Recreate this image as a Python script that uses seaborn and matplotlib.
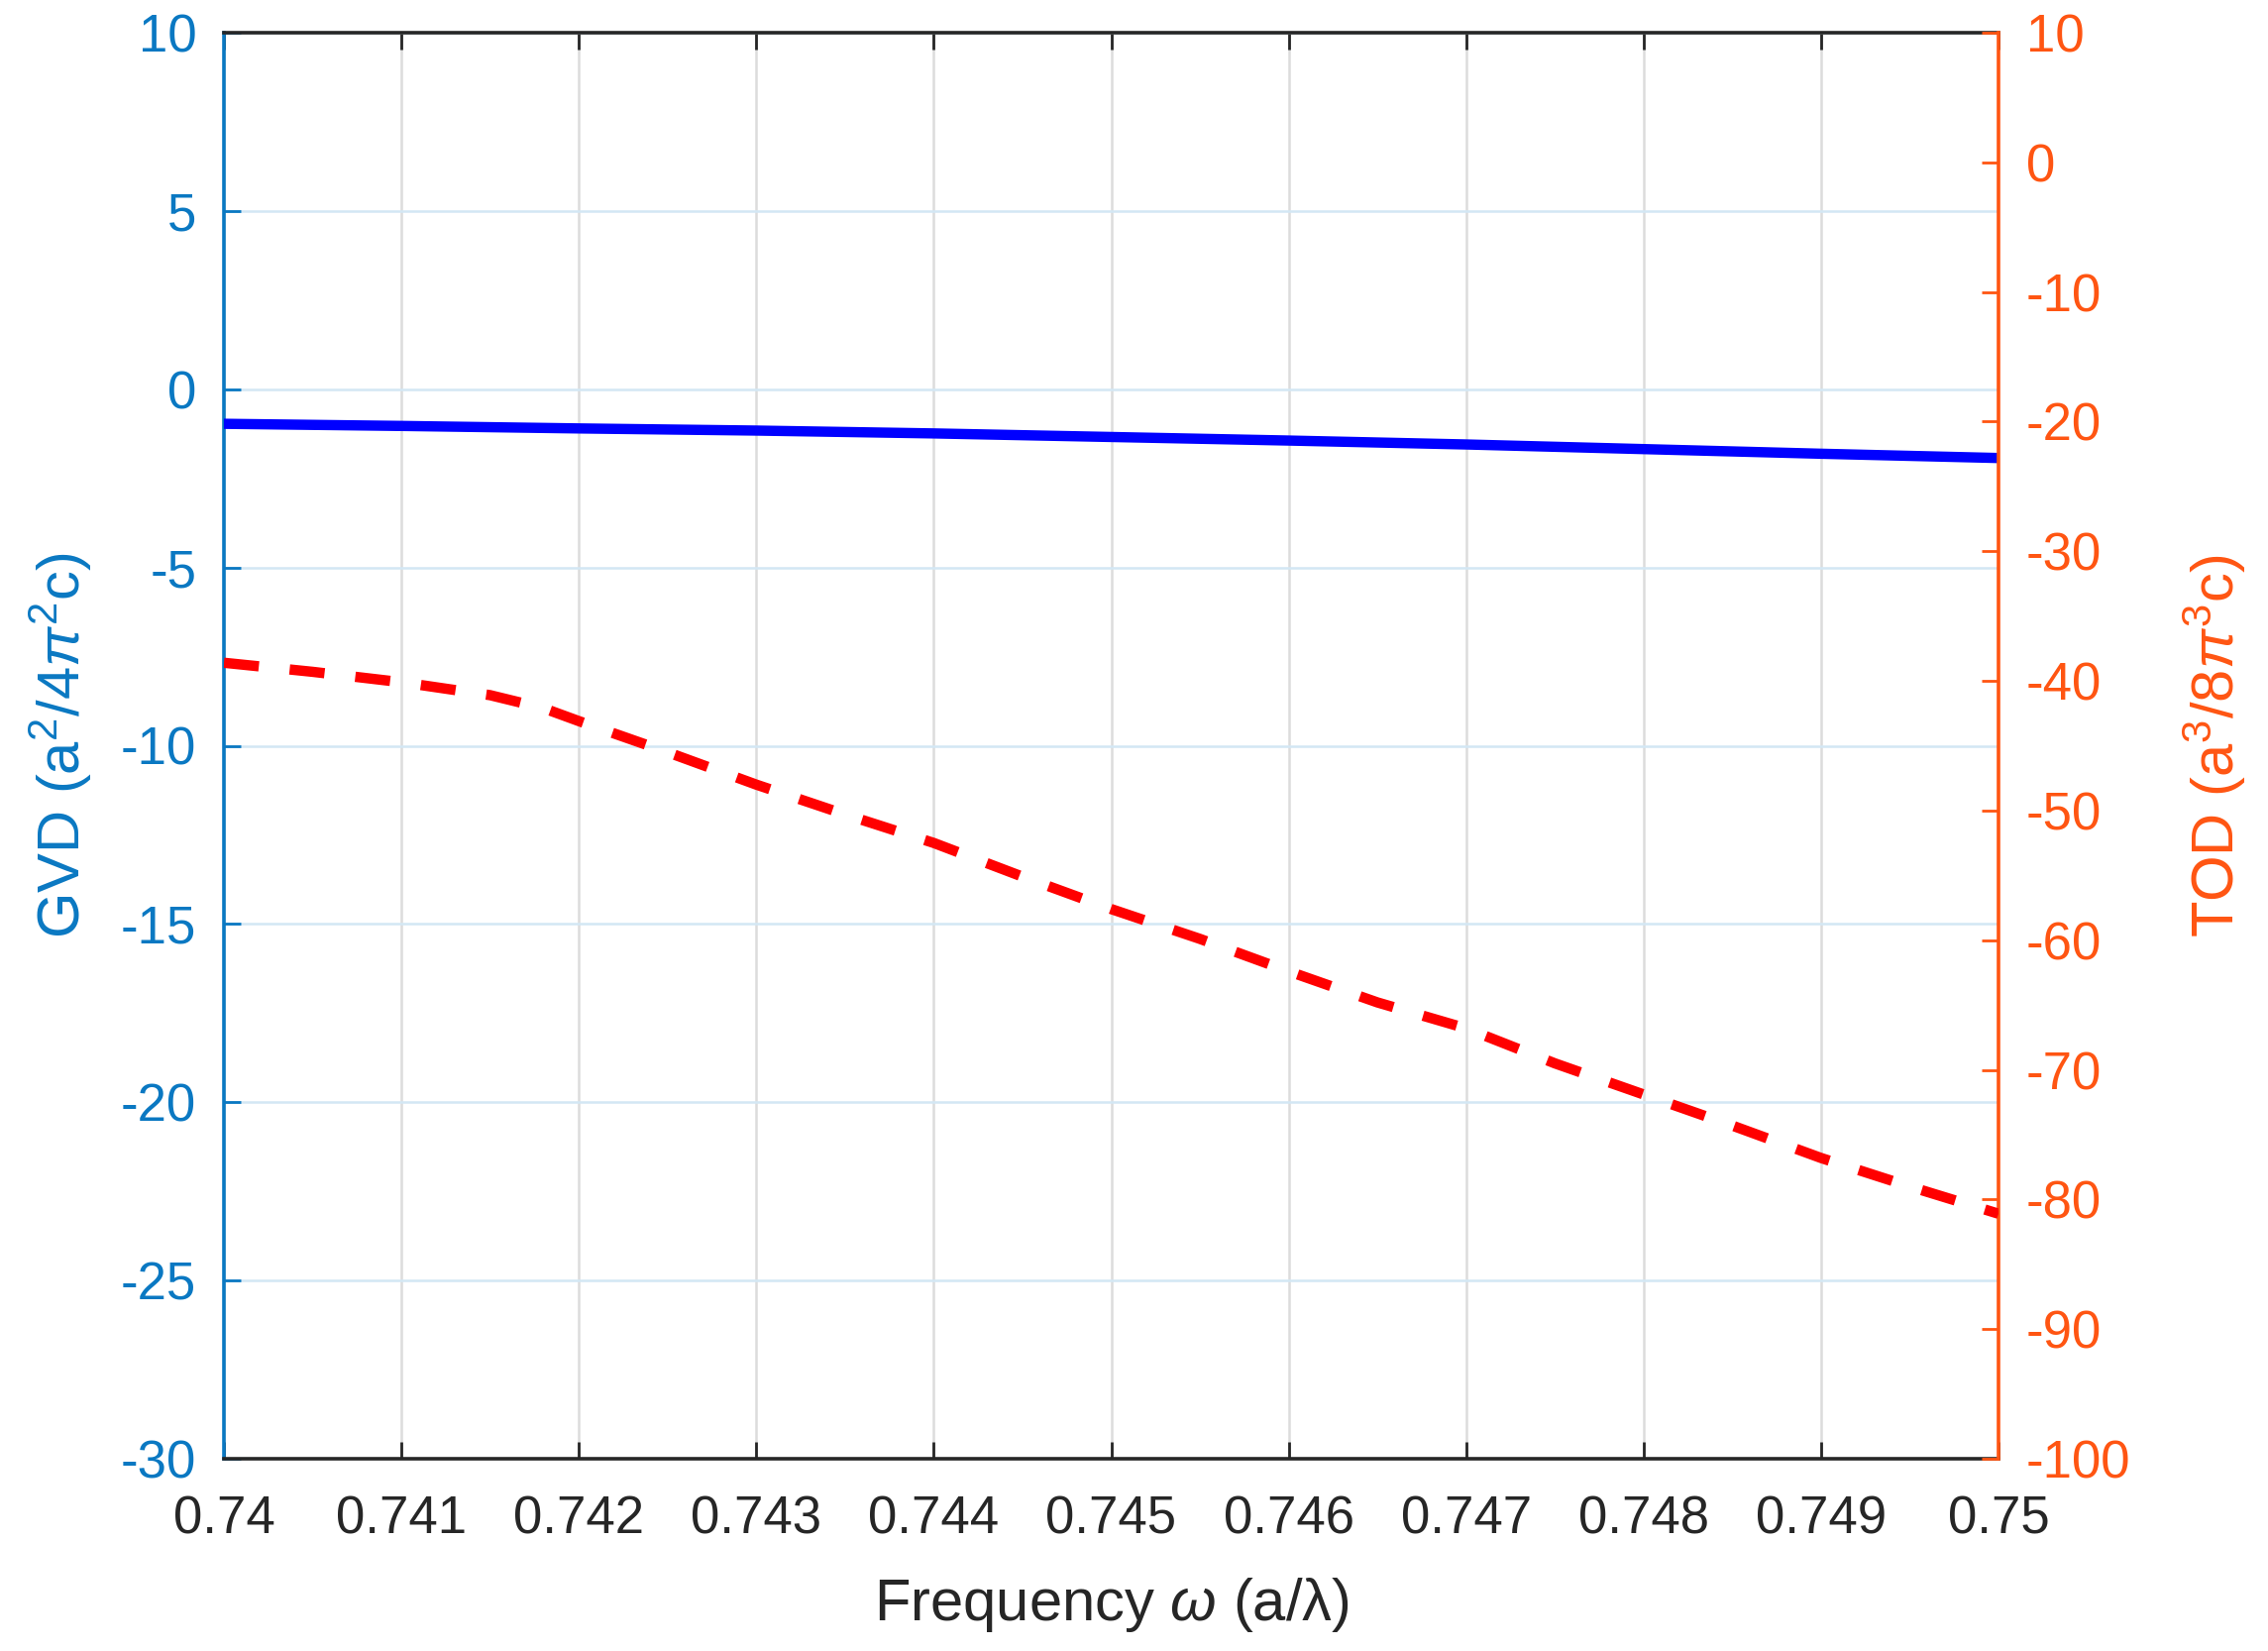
import matplotlib
matplotlib.use("Agg")
import matplotlib.pyplot as plt
import seaborn as sns
import pandas as pd

# -------------------- DATA --------------------
freq_gvd = [0.740, 0.741, 0.742, 0.743, 0.744, 0.745, 0.746, 0.747, 0.748, 0.749, 0.750]
gvd = [-0.97, -1.03, -1.10, -1.16, -1.24, -1.34, -1.44, -1.55, -1.68, -1.81, -1.93]

freq_tod = [0.740, 0.7405, 0.741, 0.7415, 0.7418, 0.742, 0.7425, 0.743, 0.7435, 0.744,
            0.7445, 0.745, 0.7455, 0.746, 0.7465, 0.747, 0.7475, 0.748, 0.7485, 0.749,
            0.7495, 0.750]
tod = [-38.6, -39.3, -40.1, -41.1, -42.1, -43.1, -45.5, -48.0, -50.3, -52.5,
       -55.1, -57.6, -59.9, -62.4, -64.8, -66.8, -69.5, -71.9, -74.3, -76.8,
       -79.0, -81.1]

x_ticks = [0.740, 0.741, 0.742, 0.743, 0.744, 0.745, 0.746, 0.747, 0.748, 0.749, 0.750]
x_tick_labels = ["0.74", "0.741", "0.742", "0.743", "0.744", "0.745",
                 "0.746", "0.747", "0.748", "0.749", "0.75"]
gvd_ticks = [10, 5, 0, -5, -10, -15, -20, -25, -30]
tod_ticks = [10, 0, -10, -20, -30, -40, -50, -60, -70, -80, -90, -100]

# -------------------- STYLE --------------------
LEFT_C = "#0A78C2"
RIGHT_C = "#FF5512"
AX_C = "#262626"

sns.set_theme(style="white")
plt.rcParams["font.family"] = ["Liberation Sans", "DejaVu Sans"]
plt.rcParams["mathtext.fontset"] = "custom"
plt.rcParams["mathtext.rm"] = "Liberation Sans"
plt.rcParams["mathtext.it"] = "Liberation Sans:italic"

TICK_FS = 38
LABEL_FS = 43

gvd_df = pd.DataFrame({"freq": freq_gvd, "gvd": gvd})
tod_df = pd.DataFrame({"freq": freq_tod, "tod": tod})

fig, ax = plt.subplots(figsize=(22.89, 16.66), dpi=100)
fig.subplots_adjust(left=226 / 2289, right=2017 / 2289,
                    top=1 - 33 / 1666, bottom=1 - 1472 / 1666)
ax2 = ax.twinx()

# -------------------- LINES --------------------
sns.lineplot(data=gvd_df, x="freq", y="gvd", ax=ax, color="#0000FF",
             linewidth=7.5, errorbar=None, zorder=3)
sns.lineplot(data=tod_df, x="freq", y="tod", ax=ax2, color="#FF0000",
             linewidth=7.5, errorbar=None, zorder=3)
# dashed TOD curve (lengths in units of line width)
ax2.lines[0].set_dashes((3.4, 3.0))
ax2.lines[0].set_dash_capstyle("butt")

# -------------------- AXES --------------------
ax.set_xlim(0.740, 0.750)
ax.set_ylim(-30, 10)
ax2.set_ylim(-100, 10)

ax.set_xticks(x_ticks)
ax.set_xticklabels(x_tick_labels)
ax.set_yticks(gvd_ticks)
ax.set_yticklabels([str(v) for v in gvd_ticks])
ax2.set_yticks(tod_ticks)
ax2.set_yticklabels([str(v) for v in tod_ticks])

ax.grid(True, axis="y", color="#D3E7F4", linewidth=1.8, zorder=0)
ax.grid(True, axis="x", color="#DCDCDC", linewidth=1.8, zorder=0)
ax.set_axisbelow(True)

for side in ["top", "bottom"]:
    ax.spines[side].set_color(AX_C)
    ax.spines[side].set_linewidth(2.6)
ax.spines["left"].set_color(LEFT_C)
ax.spines["left"].set_linewidth(2.6)
ax.spines["right"].set_visible(False)
for side in ["top", "bottom", "left"]:
    ax2.spines[side].set_visible(False)
ax2.spines["right"].set_color(RIGHT_C)
ax2.spines["right"].set_linewidth(2.6)

ax.tick_params(axis="x", direction="in", length=12, width=2, color=AX_C,
               labelcolor=AX_C, labelsize=TICK_FS, pad=26, top=True, bottom=True)
ax.tick_params(axis="y", direction="in", length=12, width=2, color=LEFT_C,
               labelcolor=LEFT_C, labelsize=TICK_FS, pad=20, left=True, right=False)
ax2.tick_params(axis="y", direction="in", length=12, width=2, color=RIGHT_C,
                labelcolor=RIGHT_C, labelsize=TICK_FS, pad=20)

ax.set_xlabel(r"Frequency $\omega$ (a/λ)", fontsize=LABEL_FS, color=AX_C)
ax.set_ylabel(r"GVD (a$^2$/4$\pi^2$c)", fontsize=LABEL_FS, color=LEFT_C)
ax2.set_ylabel(r"TOD (a$^3$/8$\pi^3$c)", fontsize=LABEL_FS, color=RIGHT_C)

ax.xaxis.set_label_coords(0.5, -0.082)
ax.yaxis.set_label_coords(-0.073, 0.5)
ax2.yaxis.set_label_coords(1.103, 0.5)

fig.savefig("out.png", dpi=100, facecolor="white")
plt.close(fig)
